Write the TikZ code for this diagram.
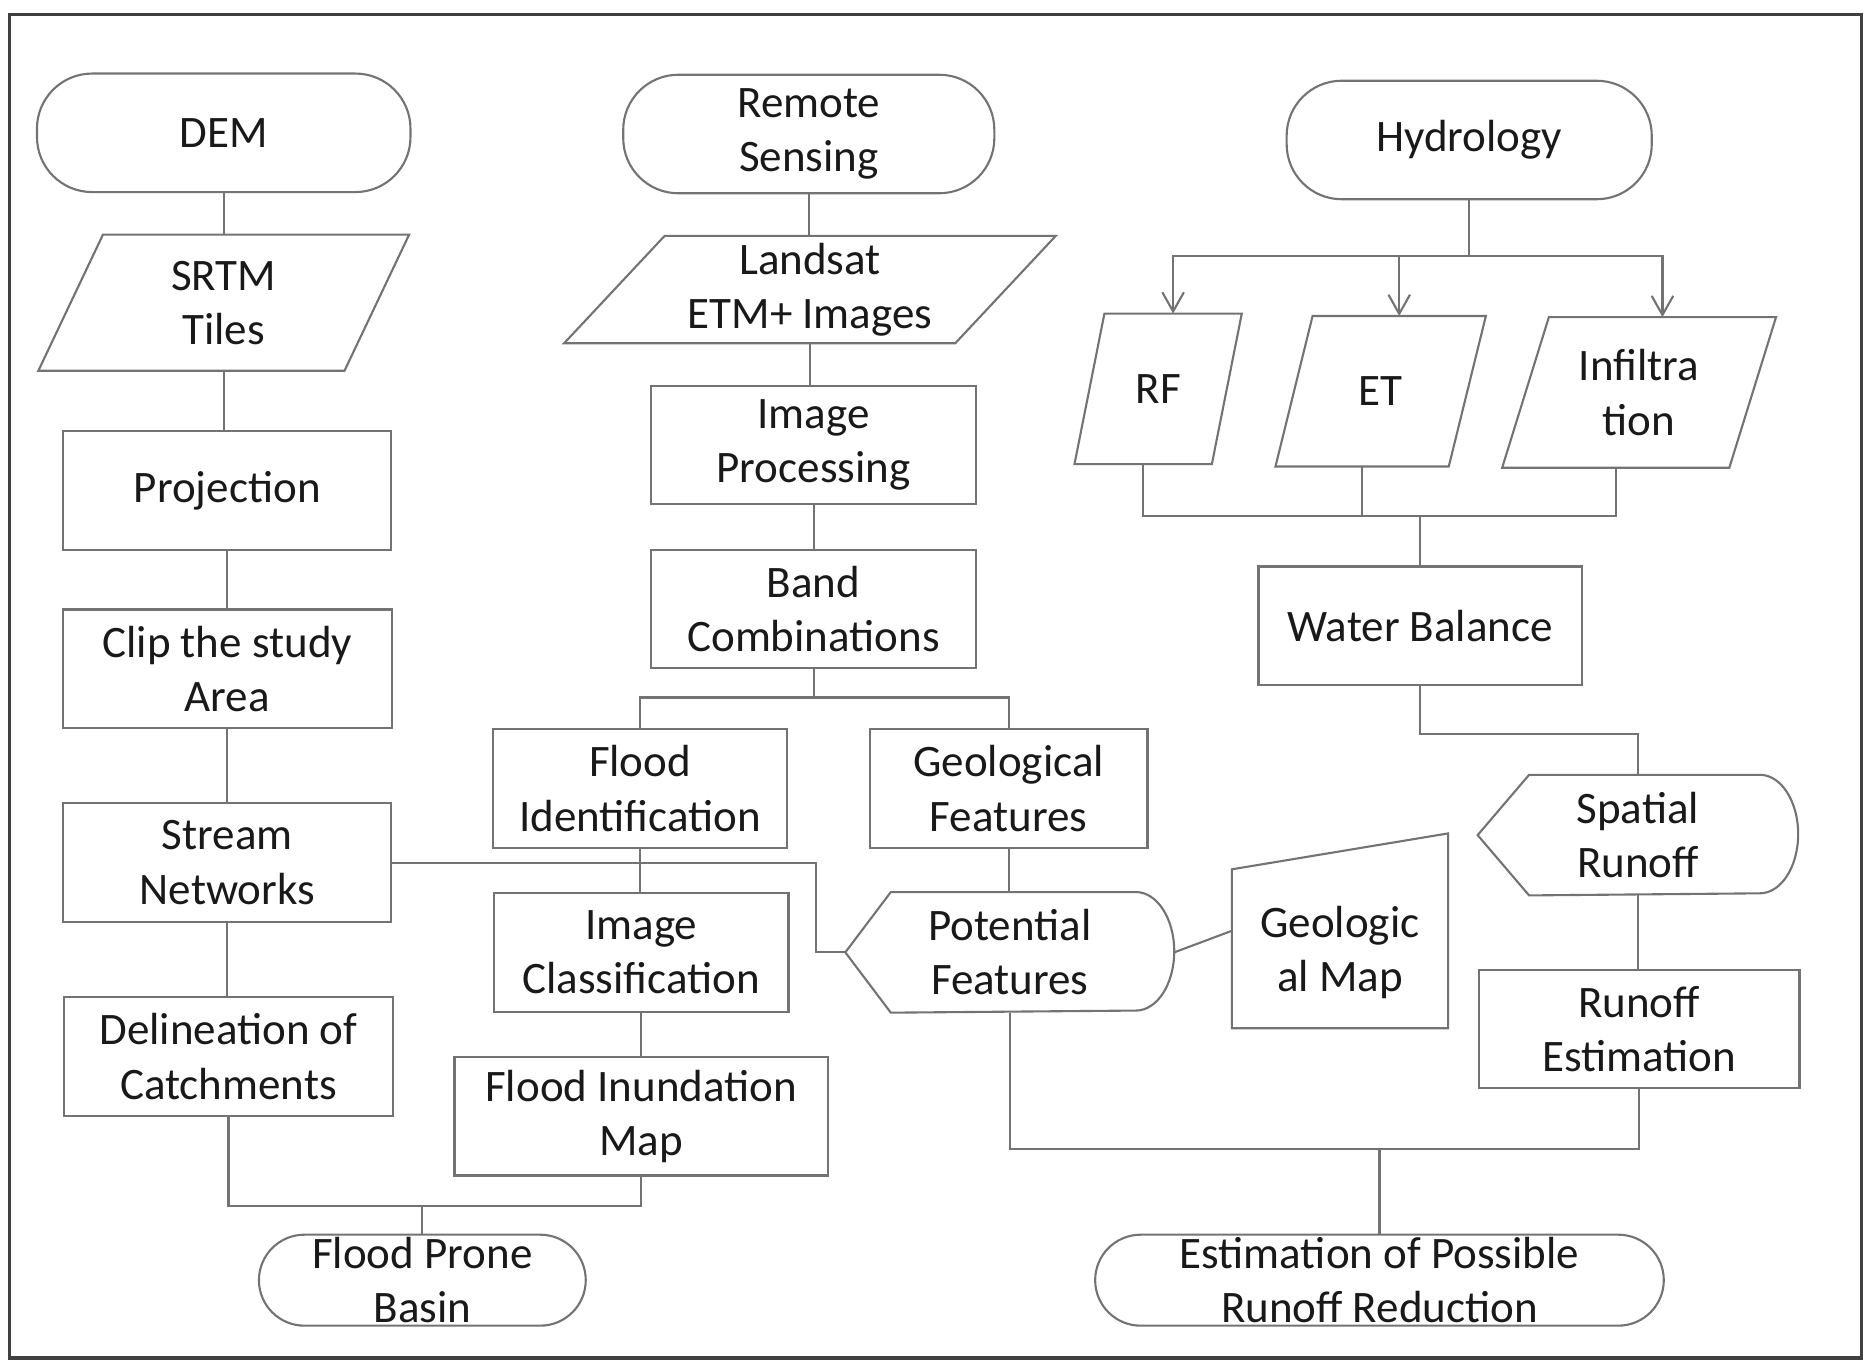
\documentclass[tikz,border=0pt]{standalone}
\usepackage{fontspec}
\setmainfont{Carlito}
\usepackage{tikz}
\usetikzlibrary{arrows.meta,calc}

\begin{document}
\begin{tikzpicture}[
		x=0.01cm, y=-0.01cm,
		basic/.style    = {draw=black!55, line width=0.5pt, text=black!90, align=center, inner sep=0pt, font=\fontsize{10.7}{12.9}\selectfont},
		process/.style  = {basic, rectangle, minimum height=0.99cm},
		terminal/.style = {basic, rectangle, rounded corners=0.46cm, minimum height=0.99cm},
		data/.style     = {basic, draw=none, rectangle, minimum height=1.24cm},
		display/.style  = {basic, draw=none, minimum height=0.99cm},
		line/.style     = {draw=black!55, line width=0.5pt},
		>={Straight Barb[length=1.6mm,width=1.8mm]}]
		
		\useasboundingbox (0,0) rectangle (1568,1139);
		\draw[black!75, line width=0.8pt] (8,12) rectangle (1556,1135);
		
		% Start of the three columns
		\node[terminal, minimum width=3.12cm] (dem) at (187,111) {DEM};
		\node[terminal, minimum width=3.10cm] (rs) at (676,112) {Remote\\Sensing};
		\node[terminal, minimum width=3.05cm] (hyd) at (1228,117) {Hydrology};
		
		% Input data, outlines drawn further down
		\node[data, minimum width=3.08cm, minimum height=1.12cm] (srtm) at (187,253) {SRTM\\Tiles};
		\node[data, minimum width=4.09cm, minimum height=0.88cm] (landsat) at (677,242) {Landsat\\ETM+ Images};
		\node[data, minimum width=1.38cm] (rf) at (968,325) {RF};
		\node[data, minimum width=1.74cm] (et) at (1154,327) {ET};
		\node[data, minimum width=2.27cm] (inf) at (1370,328) {Infiltra\\tion};
		
		% DEM column
		\node[process, minimum width=2.74cm] (proj) at (190,410) {Projection};
		\node[process, minimum width=2.75cm] (clip) at (190,559) {Clip the study\\Area};
		\node[process, minimum width=2.74cm] (stream) at (190,721) {Stream\\Networks};
		\node[process, minimum width=2.75cm] (delin) at (191,883) {Delineation of\\Catchments};
		
		% Remote sensing column
		\node[process, minimum width=2.72cm] (imgproc) at (680,372) {Image\\Processing};
		\node[process, minimum width=2.72cm] (band) at (680,509) {Band\\Combinations};
		\node[process, minimum width=2.46cm] (floodid) at (535,659) {Flood\\Identification};
		\node[process, minimum width=2.46cm] (imgclass) at (536,796) {Image\\Classification};
		\node[process, minimum width=3.12cm] (inund) at (536,933) {Flood Inundation\\Map};
		\node[process, minimum width=2.32cm] (geofeat) at (843,659) {Geological\\Features};
		\node[display, minimum width=2.73cm] (pot) at (844,796) {Potential\\Features};
		\node[display, minimum width=1.79cm, minimum height=1.61cm] (gmap) at (1120,778) {};
		\node[display] (gmaptext) at (1120,796) {Geologic\\al Map};
		
		% Hydrology column
		\node[process, minimum width=2.70cm] (water) at (1187,523) {Water Balance};
		\node[display, minimum width=2.66cm] (spatial) at (1369,698) {Spatial\\Runoff};
		\node[process, minimum width=2.68cm] (runest) at (1370,860) {Runoff\\Estimation};
		
		% Results
		\node[terminal, minimum width=2.73cm, minimum height=0.76cm, rounded corners=0.38cm] (fpb) at (353,1070) {Flood Prone\\Basin};
		\node[terminal, minimum width=4.75cm, minimum height=0.76cm, rounded corners=0.38cm] (est) at (1153,1070) {Estimation of Possible\\Runoff Reduction};
		
		% Outlines of the data, display and manual input shapes
		\foreach \n/\o in {srtm/0.54cm, landsat/0.84cm, rf/0.25cm, et/0.31cm, inf/0.39cm}{
			\coordinate (\n-tl) at ([xshift=\o]\n.north west);
			\coordinate (\n-br) at ([xshift=-\o]\n.south east);
			\draw[line] (\n-tl) -- (\n.north east) -- (\n-br) -- (\n.south west) -- cycle;
		}
		\foreach \n/\d in {pot/0.38cm, spatial/0.43cm}
		\draw[line] (\n.west) -- ([xshift=\d]\n.north west) -- ([xshift=-0.32cm]\n.north east)
			arc[start angle=90, end angle=-90, x radius=0.32cm, y radius=0.495cm]
			-- ([xshift=\d]\n.south west) -- cycle;
		\draw[line] (gmap.south west) -- (gmap.south east) -- (gmap.north east) -- ([yshift=-0.3cm]gmap.north west) -- cycle;
		
		% Straight links down each column
		\foreach \a/\b in {dem/srtm, srtm/proj, proj/clip, clip/stream, stream/delin, rs/landsat, landsat/imgproc, imgproc/band, floodid/imgclass, imgclass/inund, geofeat/pot, spatial/runest}
		\draw[line] (\a.south) -- (\a.south |- \b.north);
		
		% Splits and joins
		\coordinate (bsplit) at (680,583);
		\draw[line] (band.south) -- (bsplit);
		\draw[line] (floodid.north) |- (bsplit) -| (geofeat.north);
		
		\coordinate (sbend) at (682,721);
		\draw[line] (stream.east) -- (sbend) |- (pot.west);
		\draw[line] (pot.east) -- (gmap.west);
		
		\coordinate (ljoin) at (353,1008);
		\draw[line] (delin.south) |- (ljoin) -| (inund.south);
		\draw[line] (ljoin) -- (fpb.north);
		
		\coordinate (hsplit) at (1228,214);
		\draw[line] (hyd.south) -- (hsplit);
		\foreach \n in {rf,et,inf}
		\draw[line,->] (hsplit) -| ($(\n-tl)!0.5!(\n.north east)$);
		
		\coordinate (hjoin) at (1187,431);
		\foreach \n in {rf,et,inf}
		\draw[line] ($(\n.south west)!0.5!(\n-br)$) |- (hjoin);
		\draw[line] (hjoin) -- (water.north);
		\draw[line] (water.south) -- ++(0,40) -| (spatial.north);
		
		\coordinate (rjoin) at (1153,960);
		\draw[line] (pot.south) |- (rjoin) -| (runest.south);
		\draw[line] (rjoin) -- (est.north);
		
	\end{tikzpicture}
\end{document}
